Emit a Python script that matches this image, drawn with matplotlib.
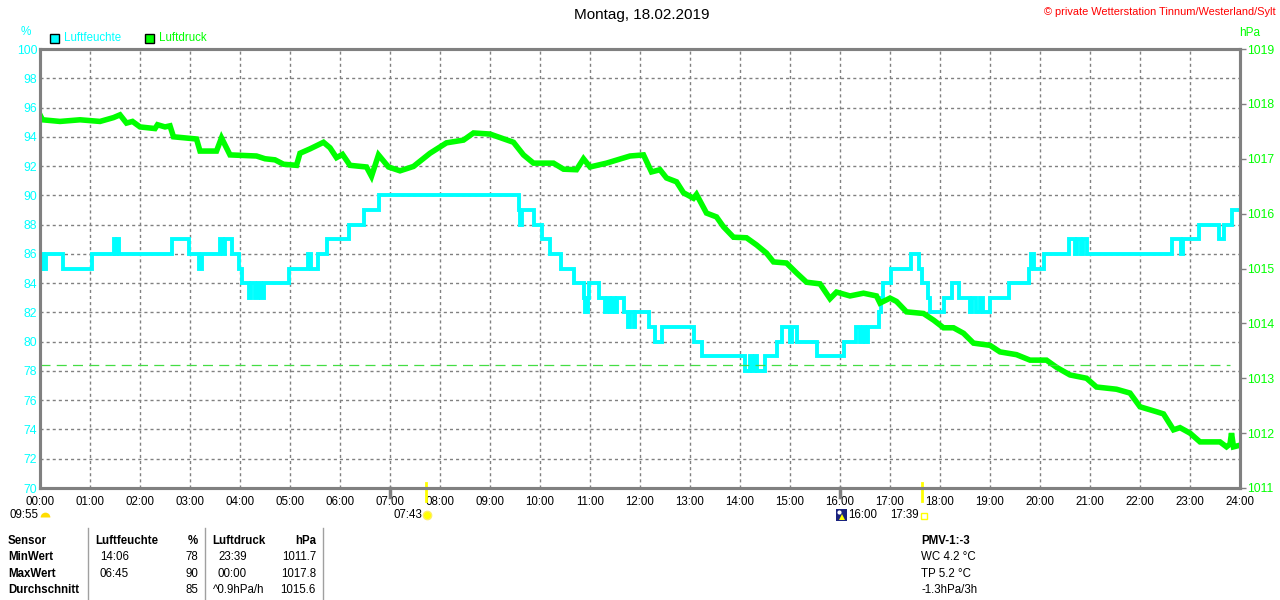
# Wetterstation Tinnum - Luftfeuchte / Luftdruck, Montag 18.02.2019
import matplotlib
matplotlib.use('Agg')
import matplotlib.pyplot as plt
from matplotlib.lines import Line2D
from matplotlib.patches import Rectangle

plt.rcParams['font.family'] = ['Liberation Sans', 'DejaVu Sans']

# humidity (%) - step changes: hour, value
hum_t = [0.0, 0.05, 0.08, 0.12, 0.45, 1.03, 1.47, 1.5, 1.53, 1.57, 1.87, 2.63, 2.97,
         3.18, 3.23, 3.6, 3.65, 3.7, 3.83, 3.97, 4.03, 4.17, 4.22, 4.3, 4.35, 4.42,
         4.47, 4.97, 5.35, 5.42, 5.55, 5.73, 6.17, 6.47, 6.77, 9.57, 9.6, 9.63, 9.87,
         10.03, 10.2, 10.42, 10.67, 10.87, 10.9, 10.95, 10.97, 11.17, 11.3, 11.33,
         11.4, 11.43, 11.5, 11.53, 11.67, 11.75, 11.8, 11.87, 11.9, 12.17, 12.3, 12.43,
         13.07, 13.23, 14.1, 14.2, 14.23, 14.3, 14.33, 14.5, 14.73, 14.83, 15.0, 15.03,
         15.13, 15.53, 16.07, 16.32, 16.4, 16.45, 16.5, 16.55, 16.78, 16.82, 16.86,
         17.02, 17.42, 17.58, 17.65, 17.75, 17.8, 18.07, 18.23, 18.37, 18.6, 18.65,
         18.72, 18.8, 18.85, 19.0, 19.38, 19.78, 19.82, 19.87, 20.08, 20.58, 20.7,
         20.74, 20.82, 20.86, 20.93, 22.63, 22.82, 22.86, 23.17, 23.57, 23.67, 23.83, 24.0]
hum_v = [85, 86, 85, 86, 85, 86, 87, 86, 87, 86, 86, 87, 86,
         85, 86, 87, 86, 87, 86, 85, 84, 83, 84, 83, 84, 83,
         84, 85, 86, 85, 86, 87, 88, 89, 90, 89, 88, 89, 88,
         87, 86, 85, 84, 83, 82, 83, 84, 83, 82, 83,
         82, 83, 82, 83, 82, 81, 82, 81, 82, 81, 80, 81,
         80, 79, 78, 79, 78, 79, 78, 79, 80, 81, 80, 81,
         80, 79, 80, 81, 80, 81, 80, 81, 82, 83, 84,
         85, 86, 85, 84, 83, 82, 83, 84, 83, 82, 83,
         82, 83, 82, 83, 84, 85, 86, 85, 86, 87, 86,
         87, 86, 87, 86, 87, 86, 87, 88, 87, 88, 89, 89]

# air pressure (hPa)
pres_t = [0.0, 0.05, 0.4, 0.8, 1.2, 1.47, 1.6, 1.73, 1.85, 2.0, 2.3, 2.35, 2.5, 2.6,
          2.67, 2.9, 3.13, 3.2, 3.53, 3.63, 3.8, 4.33, 4.5, 4.7, 4.87, 5.13, 5.2, 5.4,
          5.67, 5.8, 5.93, 6.05, 6.2, 6.53, 6.63, 6.77, 6.97, 7.2, 7.47, 7.8, 8.13,
          8.47, 8.67, 9.0, 9.47, 9.67, 9.87, 10.27, 10.47, 10.73, 10.87, 11.0, 11.33,
          11.8, 12.07, 12.23, 12.4, 12.53, 12.73, 12.87, 13.07, 13.13, 13.33, 13.53,
          13.67, 13.87, 14.13, 14.33, 14.53, 14.67, 14.93, 15.13, 15.33, 15.6, 15.8,
          15.93, 16.2, 16.47, 16.73, 16.8, 17.0, 17.13, 17.33, 17.67, 17.87, 18.07,
          18.27, 18.47, 18.67, 19.0, 19.2, 19.53, 19.8, 20.13, 20.33, 20.6, 20.93,
          21.13, 21.53, 21.8, 22.0, 22.33, 22.47, 22.67, 22.8, 23.0, 23.2, 23.6,
          23.73, 23.8, 23.83, 23.87, 24.0]
pres_v = [1017.8, 1017.71, 1017.68, 1017.71, 1017.68, 1017.75, 1017.8, 1017.65,
          1017.68, 1017.58, 1017.55, 1017.62, 1017.58, 1017.6, 1017.4, 1017.38,
          1017.36, 1017.14, 1017.14, 1017.38, 1017.07, 1017.05, 1017.0, 1016.98,
          1016.9, 1016.88, 1017.1, 1017.18, 1017.3, 1017.2, 1017.02, 1017.08,
          1016.88, 1016.85, 1016.68, 1017.07, 1016.85, 1016.78, 1016.86, 1017.1,
          1017.29, 1017.34, 1017.47, 1017.45, 1017.3, 1017.07, 1016.92, 1016.92,
          1016.81, 1016.8, 1017.0, 1016.85, 1016.92, 1017.05, 1017.07, 1016.76,
          1016.8, 1016.65, 1016.58, 1016.38, 1016.28, 1016.35, 1016.01, 1015.94,
          1015.76, 1015.57, 1015.56, 1015.43, 1015.28, 1015.12, 1015.1, 1014.92,
          1014.75, 1014.72, 1014.45, 1014.57, 1014.5, 1014.55, 1014.5, 1014.37,
          1014.46, 1014.4, 1014.21, 1014.18, 1014.06, 1013.92, 1013.92, 1013.82,
          1013.64, 1013.6, 1013.48, 1013.43, 1013.33, 1013.33, 1013.2, 1013.06,
          1013.0, 1012.84, 1012.8, 1012.73, 1012.48, 1012.39, 1012.35, 1012.06,
          1012.1, 1012.0, 1011.84, 1011.84, 1011.75, 1011.8, 1012.0, 1011.75, 1011.78]

hours = list(range(25))
hour_labels = ['%02d:00' % h for h in hours]
hum_ticks = list(range(70, 101, 2))
pres_ticks = list(range(1011, 1020))
norm_pressure = 1013.25

CYAN = '#00ffff'
GREEN = '#00ff00'
GRAY = '#808080'

W, H = 1280, 600
fig = plt.figure(figsize=(12.8, 6), dpi=100)
fig.patch.set_facecolor('white')


def fx(x):
    return x / W


def fy(y):
    return 1 - y / H


ax = fig.add_axes([fx(40), fy(488), 1200 / W, 439 / H])
ax.step(hum_t, hum_v, where='post', color=CYAN, lw=2.8, solid_joinstyle='miter')
ax.set_xlim(0, 24)
ax.set_ylim(70, 100)
ax.set_xticks(hours)
ax.set_xticklabels(hour_labels, fontsize=8.3, color='black')
ax.set_yticks(hum_ticks)
ax.set_yticklabels([str(v) for v in hum_ticks], fontsize=8.8, color=CYAN)
ax.tick_params(axis='x', length=0, pad=6)
ax.tick_params(axis='y', length=0, pad=2)
ax.grid(True, color=GRAY, ls=(0, (2.2, 2.2)), lw=1)
for s in ax.spines.values():
    s.set_color(GRAY)
    s.set_linewidth(2.2)

ax2 = ax.twinx()
ax2.plot(pres_t, pres_v, color=GREEN, lw=4, solid_joinstyle='miter')
ax2.axhline(norm_pressure, xmin=0, xmax=0.992, color='#44dd44', lw=0.9,
            ls=(0, (8, 5)))
ax2.set_ylim(1011, 1019)
ax2.set_yticks(pres_ticks)
ax2.set_yticklabels([str(v) for v in pres_ticks], fontsize=8.8, color=GREEN)
ax2.tick_params(axis='y', length=4, width=1, color=GRAY, pad=1)
for s in ax2.spines.values():
    s.set_color(GRAY)
    s.set_linewidth(2.2)

# sunrise / sunset and special hour marks
for h in [7, 16]:
    ax.plot([h, h], [70, 69.4], color=GRAY, lw=2.5, clip_on=False)
for h in [7 + 43 / 60, 17 + 39 / 60]:
    ax.plot([h, h], [70.35, 69.1], color='#ffff00', lw=2, clip_on=False)

# header texts
fig.text(fx(642), fy(15), 'Montag, 18.02.2019', fontsize=11, ha='center', va='center')
fig.text(fx(1276), fy(12), '\u00a9 private Wetterstation Tinnum/Westerland/Sylt',
         fontsize=7.9, color='red', ha='right', va='center')
fig.text(fx(26), fy(32), '%', fontsize=8.5, color=CYAN, ha='center', va='center')
fig.text(fx(1250), fy(33), 'hPa', fontsize=8.5, color=GREEN, ha='center', va='center')

# legend
for x0, col, name in [(50, CYAN, 'Luftfeuchte'), (145, GREEN, 'Luftdruck')]:
    fig.add_artist(Rectangle((fx(x0), fy(43)), 9 / W, 9 / H, facecolor=col,
                             edgecolor='black', lw=1, transform=fig.transFigure))
    fig.text(fx(x0 + 14), fy(38), name, fontsize=8.3, color=col, va='center')

# sun / moon info below the axis
fig.text(fx(10), fy(515), '09:55', fontsize=8.3, va='center')
fig.add_artist(Line2D([fx(45)], [fy(517)], marker='o', ms=7, fillstyle='top',
                      color='#ffdd00', mew=0, transform=fig.transFigure))
fig.text(fx(393), fy(515), '07:43', fontsize=8.3, va='center')
fig.add_artist(Line2D([fx(427)], [fy(515)], marker='o', ms=6, color='#ffff00',
                      mec='#ffee66', transform=fig.transFigure))
fig.add_artist(Rectangle((fx(836), fy(521)), 11 / W, 12 / H, facecolor='#1a237e',
                         edgecolor='none', transform=fig.transFigure))
fig.add_artist(Line2D([fx(839)], [fy(512)], marker='o', ms=3, color='white',
                      mew=0, transform=fig.transFigure))
fig.add_artist(Line2D([fx(842)], [fy(517)], marker='^', ms=4, color='#ffff00',
                      mew=0, transform=fig.transFigure))
fig.text(fx(848), fy(515), '16:00', fontsize=8.3, va='center')
fig.text(fx(890), fy(515), '17:39', fontsize=8.3, va='center')
fig.add_artist(Line2D([fx(924)], [fy(516)], marker='s', ms=4, mfc='none',
                      mec='#ffff00', mew=1, transform=fig.transFigure))

# statistics table
rows_y = [541, 557, 574, 590]
left_col = ['Sensor', 'MinWert', 'MaxWert', 'Durchschnitt']
hum_time = ['', '14:06', '06:45', '']
hum_val = ['%', '78', '90', '85']
pres_time = ['', '23:39', '00:00', '^0.9hPa/h']
pres_val = ['hPa', '1011.7', '1017.8', '1015.6']
for i, y in enumerate(rows_y):
    fig.text(fx(8), fy(y), left_col[i], fontsize=8.3, weight='bold', va='center')
    if i == 0:
        fig.text(fx(95), fy(y), 'Luftfeuchte', fontsize=8.3, weight='bold', va='center')
        fig.text(fx(212), fy(y), 'Luftdruck', fontsize=8.3, weight='bold', va='center')
        fig.text(fx(198), fy(y), hum_val[i], fontsize=8.3, weight='bold', va='center', ha='right')
        fig.text(fx(316), fy(y), pres_val[i], fontsize=8.3, weight='bold', va='center', ha='right')
    else:
        fig.text(fx(100), fy(y), hum_time[i], fontsize=8.3, va='center')
        fig.text(fx(198), fy(y), hum_val[i], fontsize=8.3, va='center', ha='right')
        x_pt = 213 if pres_time[i].startswith('^') else 218
        fig.text(fx(x_pt), fy(y), pres_time[i], fontsize=8.3, va='center')
        fig.text(fx(316), fy(y), pres_val[i], fontsize=8.3, va='center', ha='right')
for xs in [88, 205, 323]:
    fig.add_artist(Line2D([fx(xs), fx(xs)], [fy(528), fy(600)], color='#a0a0a0',
                          lw=1, transform=fig.transFigure))

pmv_lines = ['PMV-1:-3', 'WC 4.2 \u00b0C', 'TP 5.2 \u00b0C', '-1.3hPa/3h']
for i, y in enumerate(rows_y):
    fig.text(fx(921), fy(y), pmv_lines[i], fontsize=8.3, va='center',
             weight='bold' if i == 0 else 'normal')

fig.savefig('out.png', dpi=100)
